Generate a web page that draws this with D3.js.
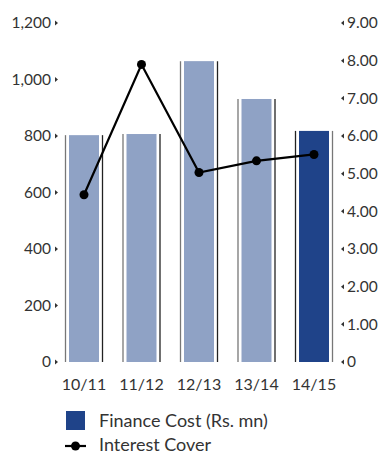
<!DOCTYPE html>
<html><head><meta charset="utf-8">
<script src="https://cdn.jsdelivr.net/npm/d3@7"></script>
<style>body{margin:0;background:#fff}svg{display:block}text{font-family:Lato,"Open Sans",sans-serif;fill:#333}</style>
</head><body><div id="c"></div>
<script>
const categories = ["10/11","11/12","12/13","13/14","14/15"];
const financeCost = [803, 807, 1065, 931, 818];
const interestCover = [4.44, 7.90, 5.03, 5.34, 5.51];
const leftTicks = [0,200,400,600,800,1000,1200];
const rightTicks = [0,1,2,3,4,5,6,7,8,9];

const W=382,H=454;
const svg=d3.select("#c").append("svg").attr("width",W).attr("height",H);
const x=d3.scaleBand().domain(categories).range([55.25,342.75]).padding(0);
const yL=d3.scaleLinear().domain([0,1200]).range([362,23]);
const yR=d3.scaleLinear().domain([0,9]).range([362,23]);
const bw=30;
const fs=15.5;

// bars
const g=svg.append("g");
categories.forEach((c,i)=>{
  const cx=x(c)+x.bandwidth()/2;
  const top=yL(financeCost[i]);
  const last=i===categories.length-1;
  g.append("rect").attr("x",cx-bw/2).attr("y",top).attr("width",bw).attr("height",yL(0)-top)
   .attr("fill",last?"#1f4389":"#8fa2c5");
  g.append("line").attr("x1",cx-bw/2-3.5).attr("x2",cx-bw/2-3.5).attr("y1",top).attr("y2",yL(0))
   .attr("stroke",last?"#222":"#777").attr("stroke-width",1.3);
  g.append("line").attr("x1",cx+bw/2+3.5).attr("x2",cx+bw/2+3.5).attr("y1",top).attr("y2",yL(0))
   .attr("stroke",last?"#777":"#222").attr("stroke-width",1.3);
});

// line
const line=d3.line().x((d,i)=>x(categories[i])+x.bandwidth()/2).y(d=>yR(d));
svg.append("path").datum(interestCover).attr("d",line).attr("fill","none").attr("stroke","#000").attr("stroke-width",2.2);
svg.selectAll(".pt").data(interestCover).enter().append("circle")
  .attr("cx",(d,i)=>x(categories[i])+x.bandwidth()/2).attr("cy",d=>yR(d)).attr("r",4.5).attr("fill","#000");

// left axis
const fmtL=d3.format(",");
const la=svg.append("g");
leftTicks.forEach(t=>{
  const y=yL(t);
  la.append("text").attr("x",51).attr("y",y).attr("dy","0.35em").attr("text-anchor","end").attr("font-size",fs).text(fmtL(t));
  la.append("path").attr("d",`M55,${y-2.5}L58,${y}L55,${y+2.5}Z`).attr("fill","#333");
});
// right axis
const ra=svg.append("g");
rightTicks.forEach(t=>{
  const y=yR(t);
  ra.append("text").attr("x",347).attr("y",y).attr("dy","0.35em").attr("text-anchor","start").attr("font-size",fs).text(t===0?"0":d3.format(".2f")(t));
  ra.append("path").attr("d",`M344,${y-2.5}L341,${y}L344,${y+2.5}Z`).attr("fill","#333");
});
// x labels
categories.forEach(c=>{
  svg.append("text").attr("x",x(c)+x.bandwidth()/2).attr("y",384).attr("dy","0.35em").attr("text-anchor","middle").attr("font-size",16).text(c);
});

// legend
svg.append("rect").attr("x",66).attr("y",411).attr("width",19).attr("height",19).attr("fill","#1f4389");
svg.append("text").attr("x",99).attr("y",421).attr("dy","0.35em").attr("font-size",18).text("Finance Cost (Rs. mn)");
svg.append("line").attr("x1",65).attr("x2",86).attr("y1",446).attr("y2",446).attr("stroke","#000").attr("stroke-width",2.2);
svg.append("circle").attr("cx",75.5).attr("cy",446).attr("r",4.5).attr("fill","#000");
svg.append("text").attr("x",99).attr("y",445).attr("dy","0.35em").attr("font-size",18).text("Interest Cover");
</script></body></html>
